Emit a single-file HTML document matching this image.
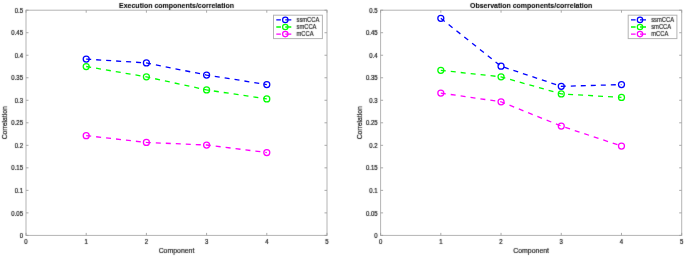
<!DOCTYPE html>
<html><head><meta charset="utf-8"><style>
html,body{margin:0;padding:0;background:#fff;}
body{width:685px;height:257px;overflow:hidden;}
svg{display:block;font-family:"Liberation Sans",sans-serif;}
</style></head><body>
<svg width="685" height="257" viewBox="0 0 685 257">
<defs><filter id="bl" x="0" y="0" width="685" height="257" filterUnits="userSpaceOnUse"><feConvolveMatrix order="3" kernelMatrix="0.01 0.06 0.01 0.06 0.72 0.06 0.01 0.06 0.01" edgeMode="none"/></filter></defs>
<rect width="685" height="257" fill="#fff"/>
<rect x="26.0" y="10.2" width="301.00" height="225.20" fill="none" stroke="#b4b4b4" stroke-width="1"/>
<path d="M26.00 235.4v-2.5M26.00 10.2v2.5M86.20 235.4v-2.5M86.20 10.2v2.5M146.40 235.4v-2.5M146.40 10.2v2.5M206.60 235.4v-2.5M206.60 10.2v2.5M266.80 235.4v-2.5M266.80 10.2v2.5M327.00 235.4v-2.5M327.00 10.2v2.5M26.0 235.40h2.5M327.0 235.40h-2.5M26.0 212.88h2.5M327.0 212.88h-2.5M26.0 190.36h2.5M327.0 190.36h-2.5M26.0 167.84h2.5M327.0 167.84h-2.5M26.0 145.32h2.5M327.0 145.32h-2.5M26.0 122.80h2.5M327.0 122.80h-2.5M26.0 100.28h2.5M327.0 100.28h-2.5M26.0 77.76h2.5M327.0 77.76h-2.5M26.0 55.24h2.5M327.0 55.24h-2.5M26.0 32.72h2.5M327.0 32.72h-2.5M26.0 10.20h2.5M327.0 10.20h-2.5" stroke="#a0a0a0" stroke-width="0.9" fill="none"/>
<polyline points="86.20,59.11 146.40,62.90 206.60,75.06 266.80,84.52" fill="none" stroke="#0000ff" stroke-width="1.3" stroke-dasharray="5 5"/>
<circle cx="86.20" cy="59.11" r="3.0" fill="none" stroke="#0000ff" stroke-width="1.25"/>
<circle cx="146.40" cy="62.90" r="3.0" fill="none" stroke="#0000ff" stroke-width="1.25"/>
<circle cx="206.60" cy="75.06" r="3.0" fill="none" stroke="#0000ff" stroke-width="1.25"/>
<circle cx="266.80" cy="84.52" r="3.0" fill="none" stroke="#0000ff" stroke-width="1.25"/>
<polyline points="86.20,66.50 146.40,76.86 206.60,89.92 266.80,98.93" fill="none" stroke="#00ff00" stroke-width="1.3" stroke-dasharray="5 5"/>
<circle cx="86.20" cy="66.50" r="3.0" fill="none" stroke="#00ff00" stroke-width="1.25"/>
<circle cx="146.40" cy="76.86" r="3.0" fill="none" stroke="#00ff00" stroke-width="1.25"/>
<circle cx="206.60" cy="89.92" r="3.0" fill="none" stroke="#00ff00" stroke-width="1.25"/>
<circle cx="266.80" cy="98.93" r="3.0" fill="none" stroke="#00ff00" stroke-width="1.25"/>
<polyline points="86.20,135.64 146.40,142.44 206.60,145.00 266.80,152.53" fill="none" stroke="#ff00ff" stroke-width="1.3" stroke-dasharray="5 5"/>
<circle cx="86.20" cy="135.64" r="3.0" fill="none" stroke="#ff00ff" stroke-width="1.25"/>
<circle cx="146.40" cy="142.44" r="3.0" fill="none" stroke="#ff00ff" stroke-width="1.25"/>
<circle cx="206.60" cy="145.00" r="3.0" fill="none" stroke="#ff00ff" stroke-width="1.25"/>
<circle cx="266.80" cy="152.53" r="3.0" fill="none" stroke="#ff00ff" stroke-width="1.25"/>
<rect x="273.5" y="15.2" width="48.90" height="23.40" fill="#fff" stroke="#b4b4b4" stroke-width="1"/>
<path d="M276.30 19.90h4.6M285.30 19.90h6" stroke="#0000ff" stroke-width="1.3"/>
<circle cx="285.30" cy="19.90" r="2.7" fill="none" stroke="#0000ff" stroke-width="1.2"/>
<path d="M276.30 27.00h4.6M285.30 27.00h6" stroke="#00ff00" stroke-width="1.3"/>
<circle cx="285.30" cy="27.00" r="2.7" fill="none" stroke="#00ff00" stroke-width="1.2"/>
<path d="M276.30 34.10h4.6M285.30 34.10h6" stroke="#ff00ff" stroke-width="1.3"/>
<circle cx="285.30" cy="34.10" r="2.7" fill="none" stroke="#ff00ff" stroke-width="1.2"/>
<rect x="380.6" y="10.2" width="301.10" height="225.20" fill="none" stroke="#b4b4b4" stroke-width="1"/>
<path d="M380.60 235.4v-2.5M380.60 10.2v2.5M440.82 235.4v-2.5M440.82 10.2v2.5M501.04 235.4v-2.5M501.04 10.2v2.5M561.26 235.4v-2.5M561.26 10.2v2.5M621.48 235.4v-2.5M621.48 10.2v2.5M681.70 235.4v-2.5M681.70 10.2v2.5M380.6 235.40h2.5M681.7 235.40h-2.5M380.6 212.88h2.5M681.7 212.88h-2.5M380.6 190.36h2.5M681.7 190.36h-2.5M380.6 167.84h2.5M681.7 167.84h-2.5M380.6 145.32h2.5M681.7 145.32h-2.5M380.6 122.80h2.5M681.7 122.80h-2.5M380.6 100.28h2.5M681.7 100.28h-2.5M380.6 77.76h2.5M681.7 77.76h-2.5M380.6 55.24h2.5M681.7 55.24h-2.5M380.6 32.72h2.5M681.7 32.72h-2.5M380.6 10.20h2.5M681.7 10.20h-2.5" stroke="#a0a0a0" stroke-width="0.9" fill="none"/>
<polyline points="440.82,18.31 501.04,66.23 561.26,86.32 621.48,84.61" fill="none" stroke="#0000ff" stroke-width="1.3" stroke-dasharray="5 5"/>
<circle cx="440.82" cy="18.31" r="3.0" fill="none" stroke="#0000ff" stroke-width="1.25"/>
<circle cx="501.04" cy="66.23" r="3.0" fill="none" stroke="#0000ff" stroke-width="1.25"/>
<circle cx="561.26" cy="86.32" r="3.0" fill="none" stroke="#0000ff" stroke-width="1.25"/>
<circle cx="621.48" cy="84.61" r="3.0" fill="none" stroke="#0000ff" stroke-width="1.25"/>
<polyline points="440.82,70.33 501.04,76.86 561.26,93.88 621.48,97.40" fill="none" stroke="#00ff00" stroke-width="1.3" stroke-dasharray="5 5"/>
<circle cx="440.82" cy="70.33" r="3.0" fill="none" stroke="#00ff00" stroke-width="1.25"/>
<circle cx="501.04" cy="76.86" r="3.0" fill="none" stroke="#00ff00" stroke-width="1.25"/>
<circle cx="561.26" cy="93.88" r="3.0" fill="none" stroke="#00ff00" stroke-width="1.25"/>
<circle cx="621.48" cy="97.40" r="3.0" fill="none" stroke="#00ff00" stroke-width="1.25"/>
<polyline points="440.82,93.07 501.04,101.77 561.26,126.04 621.48,146.04" fill="none" stroke="#ff00ff" stroke-width="1.3" stroke-dasharray="5 5"/>
<circle cx="440.82" cy="93.07" r="3.0" fill="none" stroke="#ff00ff" stroke-width="1.25"/>
<circle cx="501.04" cy="101.77" r="3.0" fill="none" stroke="#ff00ff" stroke-width="1.25"/>
<circle cx="561.26" cy="126.04" r="3.0" fill="none" stroke="#ff00ff" stroke-width="1.25"/>
<circle cx="621.48" cy="146.04" r="3.0" fill="none" stroke="#ff00ff" stroke-width="1.25"/>
<rect x="628.2" y="15.2" width="48.70" height="23.40" fill="#fff" stroke="#b4b4b4" stroke-width="1"/>
<path d="M631.00 19.90h4.6M640.00 19.90h6" stroke="#0000ff" stroke-width="1.3"/>
<circle cx="640.00" cy="19.90" r="2.7" fill="none" stroke="#0000ff" stroke-width="1.2"/>
<path d="M631.00 27.00h4.6M640.00 27.00h6" stroke="#00ff00" stroke-width="1.3"/>
<circle cx="640.00" cy="27.00" r="2.7" fill="none" stroke="#00ff00" stroke-width="1.2"/>
<path d="M631.00 34.10h4.6M640.00 34.10h6" stroke="#ff00ff" stroke-width="1.3"/>
<circle cx="640.00" cy="34.10" r="2.7" fill="none" stroke="#ff00ff" stroke-width="1.2"/>
<g filter="url(#bl)">
<text transform="translate(26.00,244.30) scale(1,1.15)" font-size="6" text-anchor="middle" fill="#262626" stroke="#262626" stroke-width="0.2">0</text>
<text transform="translate(86.20,244.30) scale(1,1.15)" font-size="6" text-anchor="middle" fill="#262626" stroke="#262626" stroke-width="0.2">1</text>
<text transform="translate(146.40,244.30) scale(1,1.15)" font-size="6" text-anchor="middle" fill="#262626" stroke="#262626" stroke-width="0.2">2</text>
<text transform="translate(206.60,244.30) scale(1,1.15)" font-size="6" text-anchor="middle" fill="#262626" stroke="#262626" stroke-width="0.2">3</text>
<text transform="translate(266.80,244.30) scale(1,1.15)" font-size="6" text-anchor="middle" fill="#262626" stroke="#262626" stroke-width="0.2">4</text>
<text transform="translate(327.00,244.30) scale(1,1.15)" font-size="6" text-anchor="middle" fill="#262626" stroke="#262626" stroke-width="0.2">5</text>
<text transform="translate(23.00,238.05) scale(1,1.15)" font-size="6" text-anchor="end" fill="#262626" stroke="#262626" stroke-width="0.2">0</text>
<text transform="translate(23.00,215.53) scale(1,1.15)" font-size="6" text-anchor="end" fill="#262626" stroke="#262626" stroke-width="0.2">0.05</text>
<text transform="translate(23.00,193.01) scale(1,1.15)" font-size="6" text-anchor="end" fill="#262626" stroke="#262626" stroke-width="0.2">0.1</text>
<text transform="translate(23.00,170.49) scale(1,1.15)" font-size="6" text-anchor="end" fill="#262626" stroke="#262626" stroke-width="0.2">0.15</text>
<text transform="translate(23.00,147.97) scale(1,1.15)" font-size="6" text-anchor="end" fill="#262626" stroke="#262626" stroke-width="0.2">0.2</text>
<text transform="translate(23.00,125.45) scale(1,1.15)" font-size="6" text-anchor="end" fill="#262626" stroke="#262626" stroke-width="0.2">0.25</text>
<text transform="translate(23.00,102.93) scale(1,1.15)" font-size="6" text-anchor="end" fill="#262626" stroke="#262626" stroke-width="0.2">0.3</text>
<text transform="translate(23.00,80.41) scale(1,1.15)" font-size="6" text-anchor="end" fill="#262626" stroke="#262626" stroke-width="0.2">0.35</text>
<text transform="translate(23.00,57.89) scale(1,1.15)" font-size="6" text-anchor="end" fill="#262626" stroke="#262626" stroke-width="0.2">0.4</text>
<text transform="translate(23.00,35.37) scale(1,1.15)" font-size="6" text-anchor="end" fill="#262626" stroke="#262626" stroke-width="0.2">0.45</text>
<text transform="translate(23.00,12.85) scale(1,1.15)" font-size="6" text-anchor="end" fill="#262626" stroke="#262626" stroke-width="0.2">0.5</text>
<text transform="translate(176.50,7.75) scale(1.0,1.1)" font-size="7" text-anchor="middle" fill="#000" stroke="#000" stroke-width="0.08" font-weight="bold">Execution components/correlation</text>
<text transform="translate(176.50,252.90) scale(0.99,1.05)" font-size="7" text-anchor="middle" fill="#262626" stroke="#262626" stroke-width="0.2">Component</text>
<text transform="translate(7.20,122.80) rotate(-90) scale(0.97,1.05)" font-size="7" text-anchor="middle" fill="#262626" stroke="#262626" stroke-width="0.2">Correlation</text>
<text transform="translate(296.50,22.10) scale(1,1.2)" font-size="5.8" text-anchor="start" fill="#262626" stroke="#262626" stroke-width="0.15">ssmCCA</text>
<text transform="translate(296.50,29.20) scale(1,1.2)" font-size="5.8" text-anchor="start" fill="#262626" stroke="#262626" stroke-width="0.15">smCCA</text>
<text transform="translate(296.50,36.30) scale(1,1.2)" font-size="5.8" text-anchor="start" fill="#262626" stroke="#262626" stroke-width="0.15">mCCA</text>
<text transform="translate(380.60,244.30) scale(1,1.15)" font-size="6" text-anchor="middle" fill="#262626" stroke="#262626" stroke-width="0.2">0</text>
<text transform="translate(440.82,244.30) scale(1,1.15)" font-size="6" text-anchor="middle" fill="#262626" stroke="#262626" stroke-width="0.2">1</text>
<text transform="translate(501.04,244.30) scale(1,1.15)" font-size="6" text-anchor="middle" fill="#262626" stroke="#262626" stroke-width="0.2">2</text>
<text transform="translate(561.26,244.30) scale(1,1.15)" font-size="6" text-anchor="middle" fill="#262626" stroke="#262626" stroke-width="0.2">3</text>
<text transform="translate(621.48,244.30) scale(1,1.15)" font-size="6" text-anchor="middle" fill="#262626" stroke="#262626" stroke-width="0.2">4</text>
<text transform="translate(681.70,244.30) scale(1,1.15)" font-size="6" text-anchor="middle" fill="#262626" stroke="#262626" stroke-width="0.2">5</text>
<text transform="translate(377.60,238.05) scale(1,1.15)" font-size="6" text-anchor="end" fill="#262626" stroke="#262626" stroke-width="0.2">0</text>
<text transform="translate(377.60,215.53) scale(1,1.15)" font-size="6" text-anchor="end" fill="#262626" stroke="#262626" stroke-width="0.2">0.05</text>
<text transform="translate(377.60,193.01) scale(1,1.15)" font-size="6" text-anchor="end" fill="#262626" stroke="#262626" stroke-width="0.2">0.1</text>
<text transform="translate(377.60,170.49) scale(1,1.15)" font-size="6" text-anchor="end" fill="#262626" stroke="#262626" stroke-width="0.2">0.15</text>
<text transform="translate(377.60,147.97) scale(1,1.15)" font-size="6" text-anchor="end" fill="#262626" stroke="#262626" stroke-width="0.2">0.2</text>
<text transform="translate(377.60,125.45) scale(1,1.15)" font-size="6" text-anchor="end" fill="#262626" stroke="#262626" stroke-width="0.2">0.25</text>
<text transform="translate(377.60,102.93) scale(1,1.15)" font-size="6" text-anchor="end" fill="#262626" stroke="#262626" stroke-width="0.2">0.3</text>
<text transform="translate(377.60,80.41) scale(1,1.15)" font-size="6" text-anchor="end" fill="#262626" stroke="#262626" stroke-width="0.2">0.35</text>
<text transform="translate(377.60,57.89) scale(1,1.15)" font-size="6" text-anchor="end" fill="#262626" stroke="#262626" stroke-width="0.2">0.4</text>
<text transform="translate(377.60,35.37) scale(1,1.15)" font-size="6" text-anchor="end" fill="#262626" stroke="#262626" stroke-width="0.2">0.45</text>
<text transform="translate(377.60,12.85) scale(1,1.15)" font-size="6" text-anchor="end" fill="#262626" stroke="#262626" stroke-width="0.2">0.5</text>
<text transform="translate(531.15,7.75) scale(1.0,1.1)" font-size="7" text-anchor="middle" fill="#000" stroke="#000" stroke-width="0.08" font-weight="bold">Observation components/correlation</text>
<text transform="translate(531.15,252.90) scale(0.99,1.05)" font-size="7" text-anchor="middle" fill="#262626" stroke="#262626" stroke-width="0.2">Component</text>
<text transform="translate(361.80,122.80) rotate(-90) scale(0.97,1.05)" font-size="7" text-anchor="middle" fill="#262626" stroke="#262626" stroke-width="0.2">Correlation</text>
<text transform="translate(651.20,22.10) scale(1,1.2)" font-size="5.8" text-anchor="start" fill="#262626" stroke="#262626" stroke-width="0.15">ssmCCA</text>
<text transform="translate(651.20,29.20) scale(1,1.2)" font-size="5.8" text-anchor="start" fill="#262626" stroke="#262626" stroke-width="0.15">smCCA</text>
<text transform="translate(651.20,36.30) scale(1,1.2)" font-size="5.8" text-anchor="start" fill="#262626" stroke="#262626" stroke-width="0.15">mCCA</text>
</g>
</svg>
</body></html>
